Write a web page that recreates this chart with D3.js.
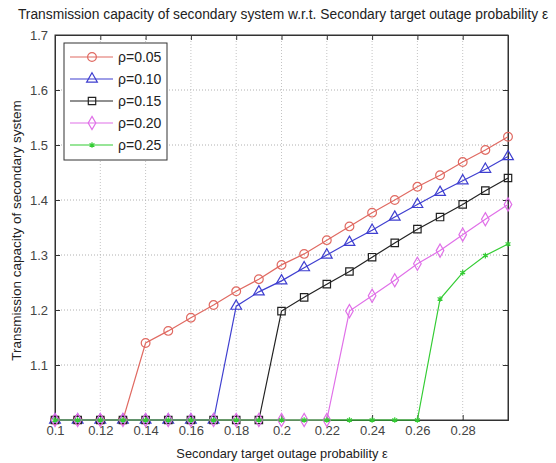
<!DOCTYPE html>
<html lang="en">
<head>
<meta charset="utf-8">
<title>Transmission capacity vs target outage probability</title>
<script src="https://d3js.org/d3.v7.min.js"></script>
<style>
    body { margin: 0; background: #fff; }
    svg { display: block; }
    text { font-family: "Liberation Sans", Arial, sans-serif; fill: #222; }
</style>
</head>
<body>
<script>
// outage probability eps, 0.10 .. 0.30 step 0.01
var eps = [0.10, 0.11, 0.12, 0.13, 0.14, 0.15, 0.16, 0.17, 0.18, 0.19, 0.20,
           0.21, 0.22, 0.23, 0.24, 0.25, 0.26, 0.27, 0.28, 0.29, 0.30];

var rho005 = [1, 1, 1, 1, 1.14, 1.162, 1.186, 1.209, 1.234, 1.256, 1.282,
              1.302, 1.327, 1.352, 1.377, 1.40, 1.424, 1.445, 1.469, 1.491, 1.515];
var rho010 = [1, 1, 1, 1, 1, 1, 1, 1, 1.207, 1.233, 1.253,
              1.277, 1.30, 1.323, 1.345, 1.369, 1.392, 1.414, 1.435, 1.456, 1.479];
var rho015 = [1, 1, 1, 1, 1, 1, 1, 1, 1, 1, 1.198,
              1.223, 1.247, 1.27, 1.296, 1.322, 1.347, 1.369, 1.392, 1.417, 1.44];
var rho020 = [1, 1, 1, 1, 1, 1, 1, 1, 1, 1, 1,
              1, 1, 1.198, 1.226, 1.254, 1.284, 1.308, 1.337, 1.365, 1.392];
var rho025 = [1, 1, 1, 1, 1, 1, 1, 1, 1, 1, 1,
              1, 1, 1, 1, 1, 1, 1.22, 1.268, 1.299, 1.32];

var seriesNames = ['\u03c1=0.05', '\u03c1=0.10', '\u03c1=0.15', '\u03c1=0.20', '\u03c1=0.25'];
var xTicks = [0.1, 0.12, 0.14, 0.16, 0.18, 0.2, 0.22, 0.24, 0.26, 0.28];
var yTicks = [1.1, 1.2, 1.3, 1.4, 1.5, 1.6, 1.7];

var colors = ['#e06a62', '#3f3fd0', '#222222', '#e070e8', '#33cc33'];
var symbolAst = d3.symbolAsterisk || d3.symbolCross;
var symbols = [d3.symbolCircle, d3.symbolTriangle, d3.symbolSquare, d3.symbolDiamond, symbolAst];
var symSizes = [60, 50, 55, 50, 22];

var W = 556, H = 463;
var margin = {top: 35, right: 48, bottom: 43, left: 55};
var width = W - margin.left - margin.right;
var height = H - margin.top - margin.bottom;

var svg = d3.select('body').append('svg')
    .attr('width', W)
    .attr('height', H);

var g = svg.append('g')
    .attr('transform', 'translate(' + margin.left + ',' + margin.top + ')');

var x = d3.scaleLinear().domain([0.1, 0.3]).range([0, width]);
var y = d3.scaleLinear().domain([1.0, 1.7]).range([height, 0]);

g.append('rect')
    .attr('width', width)
    .attr('height', height)
    .attr('fill', '#fff');

// grid
g.append('g')
    .selectAll('line')
    .data(xTicks.slice(1))
    .join('line')
    .attr('x1', d => x(d)).attr('x2', d => x(d))
    .attr('y1', 0).attr('y2', height)
    .attr('stroke', '#c4c4c4')
    .attr('stroke-dasharray', '1,2');

g.append('g')
    .selectAll('line')
    .data(yTicks.slice(0, -1))
    .join('line')
    .attr('x1', 0).attr('x2', width)
    .attr('y1', d => y(d)).attr('y2', d => y(d))
    .attr('stroke', '#b0b0b0')
    .attr('stroke-dasharray', '1,2');

// axes, ticks inside like matlab
var xAxis = d3.axisBottom(x).tickValues(xTicks).tickSize(-5).tickPadding(6)
    .tickFormat(d3.format('~g'));
var yAxis = d3.axisLeft(y).tickValues(yTicks).tickSize(-5).tickPadding(7)
    .tickFormat(d3.format('~g'));

var gx = g.append('g')
    .attr('transform', 'translate(0,' + height + ')')
    .call(xAxis);
var gy = g.append('g').call(yAxis);

g.append('g').call(d3.axisTop(x).tickValues(xTicks).tickSize(-5).tickFormat(''));
g.append('g').attr('transform', 'translate(' + width + ',0)')
    .call(d3.axisRight(y).tickValues(yTicks).tickSize(-5).tickFormat(''));

g.selectAll('.domain').attr('stroke', '#333');
g.selectAll('.tick line').attr('stroke', '#333');
gx.selectAll('text').attr('font-size', 13).style('fill', '#444');
gy.selectAll('text').attr('font-size', 13).style('fill', '#444');

g.append('rect')
    .attr('width', width)
    .attr('height', height)
    .attr('fill', 'none')
    .attr('stroke', '#333');

// series
var allSeries = [rho005, rho010, rho015, rho020, rho025];
var line = d3.line()
    .x((d, i) => x(eps[i]))
    .y(d => y(d));

allSeries.forEach(function (vals, k) {
    g.append('path')
        .datum(vals)
        .attr('d', line)
        .attr('fill', 'none')
        .attr('stroke', colors[k])
        .attr('stroke-width', 1.2);
    g.append('g')
        .selectAll('path')
        .data(vals)
        .join('path')
        .attr('transform', (d, i) => 'translate(' + x(eps[i]) + ',' + y(d) + ')')
        .attr('d', d3.symbol().type(symbols[k]).size(symSizes[k]))
        .attr('fill', k === 4 ? colors[k] : 'none')
        .attr('stroke', colors[k])
        .attr('stroke-width', 1.2);
});

// legend
var lg = g.append('g').attr('transform', 'translate(9,8)');
lg.append('rect')
    .attr('width', 103)
    .attr('height', 117)
    .attr('fill', '#fff')
    .attr('stroke', '#333');
seriesNames.forEach(function (name, k) {
    var yy = 14 + k * 22;
    lg.append('line')
        .attr('x1', 6).attr('x2', 49)
        .attr('y1', yy).attr('y2', yy)
        .attr('stroke', colors[k])
        .attr('stroke-width', 1.2);
    lg.append('path')
        .attr('transform', 'translate(28,' + yy + ')')
        .attr('d', d3.symbol().type(symbols[k]).size(symSizes[k]))
        .attr('fill', k === 4 ? colors[k] : 'none')
        .attr('stroke', colors[k])
        .attr('stroke-width', 1.2);
    lg.append('text')
        .attr('x', 54)
        .attr('y', yy + 5)
        .attr('font-size', 14)
        .text(name);
});

// labels
svg.append('text')
    .attr('x', 283)
    .attr('y', 19)
    .attr('text-anchor', 'middle')
    .attr('font-size', 13.8)
    .text('Transmission capacity of secondary system w.r.t. Secondary target outage probability \u03b5');

svg.append('text')
    .attr('x', 282)
    .attr('y', 458)
    .attr('text-anchor', 'middle')
    .attr('font-size', 12.8)
    .text('Secondary target outage probability \u03b5');

svg.append('text')
    .attr('transform', 'translate(21,' + (margin.top + height / 2 + 3) + ') rotate(-90)')
    .attr('text-anchor', 'middle')
    .attr('font-size', 13.5)
    .text('Transmission capacity of secondary system');
</script>
</body>
</html>
